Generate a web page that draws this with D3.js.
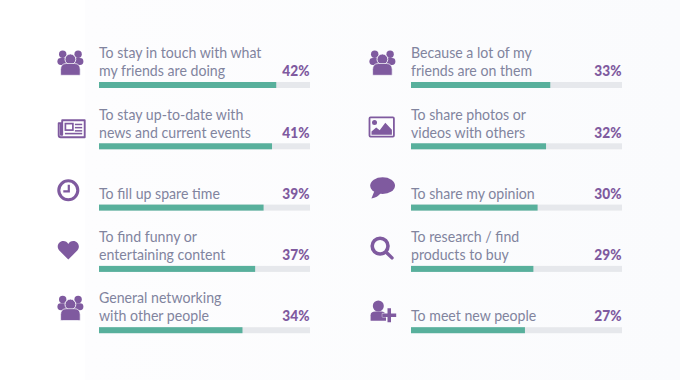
<!DOCTYPE html>
<html>
<head>
<meta charset="utf-8">
<script src="https://cdnjs.cloudflare.com/ajax/libs/d3/7.8.5/d3.min.js"></script>
<style>
  html, body { margin: 0; padding: 0; background: #fff; }
  svg { display: block; }
  text { font-family: Lato, "Noto Sans", sans-serif; }
</style>
</head>
<body>
<div id="chart"></div>
<script>
// Reasons for using social media, in reading order (two columns of five)
const labels = [
  ['To stay in touch with what', 'my friends are doing'],
  ['To stay up-to-date with', 'news and current events'],
  ['To fill up spare time'],
  ['To find funny or', 'entertaining content'],
  ['General networking', 'with other people'],
  ['Because a lot of my', 'friends are on them'],
  ['To share photos or', 'videos with others'],
  ['To share my opinion'],
  ['To research / find', 'products to buy'],
  ['To meet new people']
];
const values = [42, 41, 39, 37, 34, 33, 32, 30, 29, 27];
const icons = ['people', 'news', 'clock', 'heart', 'people', 'people', 'photo', 'speech', 'search', 'addUser'];

const width = 680;
const height = 380;
const barWidth = 211;
const barHeight = 6;
const purple = '#7f5a9f';
const green = '#58b09c';
const track = '#e6e8ec';
const textColor = '#81849e';
const panel = '#fbfcfe';

const svg = d3.select('#chart').append('svg').attr('width', width).attr('height', height);

// Background panel fades in from white on the left
const gradient = svg.append('defs').append('linearGradient').attr('id', 'panelFade');
gradient.append('stop').attr('offset', '0%').attr('stop-color', '#fdfdfe');
gradient.append('stop').attr('offset', '100%').attr('stop-color', '#fafbfd');
svg.append('rect').attr('x', 85).attr('width', width - 85).attr('height', height).attr('fill', 'url(#panelFade)');

// Scales
const column = d3.scaleOrdinal().domain([0, 1]).range([99, 411]);
const rowY = d3.scalePoint().domain([0, 1, 2, 3, 4]).range([82, 327.2]);
const barX = d3.scaleLinear().domain([0, 50]).range([0, barWidth]);

// Icons are drawn around their own centre
const iconDraw = {
  people(g) {
    [-7.7, 7.7].forEach(dx => {
      g.append('circle').attr('cx', dx).attr('cy', -10.2).attr('r', 3.7).attr('fill', purple);
      g.append('rect').attr('x', dx - 5.3).attr('y', -6.5).attr('width', 10.6).attr('height', 7).attr('rx', 3.4).attr('fill', purple);
    });
    g.append('circle').attr('cy', -5.2).attr('r', 5.4).attr('fill', purple).attr('stroke', panel).attr('stroke-width', 0.9);
    g.append('path')
      .attr('d', 'M-9.8,10.5 V5 Q-9.8,-1 -4,-1 H4 Q9.8,-1 9.8,5 V10.5 Q9.8,10.8 8,10.8 H-8 Q-9.8,10.8 -9.8,10.5 Z')
      .attr('fill', purple).attr('stroke', panel).attr('stroke-width', 0.7);
  },
  news(g) {
    g.append('path')
      .attr('d', 'M-9.5,-8.5 H13 V8.5 H-11 Q-13,8.5 -13,6.5 V-5.5 H-10.8 V6 H-9.5 Z')
      .attr('fill', 'none').attr('stroke', purple).attr('stroke-width', 1.9).attr('stroke-linejoin', 'round');
    g.append('rect').attr('x', -6.3).attr('y', -5.2).attr('width', 7.5).attr('height', 6.5)
      .attr('fill', 'none').attr('stroke', purple).attr('stroke-width', 1.7);
    [-4.4, -1.2, 2].forEach(y => {
      g.append('rect').attr('x', 3.2).attr('y', y - 0.7).attr('width', 7.3).attr('height', 1.5).attr('fill', purple);
    });
    g.append('rect').attr('x', -6.8).attr('y', 4).attr('width', 17.3).attr('height', 1.6).attr('fill', purple);
  },
  clock(g) {
    g.append('circle').attr('r', 9.5).attr('fill', 'none').attr('stroke', purple).attr('stroke-width', 3.1);
    g.append('path').attr('d', 'M0.5,-5.5 V1 H-5').attr('fill', 'none').attr('stroke', purple).attr('stroke-width', 2.2);
  },
  heart(g) {
    g.append('path')
      .attr('d', 'M0,9.3 L-9,0.4 C-12.5,-3.6 -9.7,-9.2 -5,-9.2 C-2.7,-9.2 -1,-8 0,-6.2 C1,-8 2.7,-9.2 5,-9.2 C9.7,-9.2 12.5,-3.6 9,0.4 Z')
      .attr('fill', purple);
  },
  photo(g) {
    g.append('rect').attr('x', -12.2).attr('y', -9.6).attr('width', 24.4).attr('height', 19.2).attr('rx', 1)
      .attr('fill', 'none').attr('stroke', purple).attr('stroke-width', 1.8);
    g.append('circle').attr('cx', -7.2).attr('cy', -4.6).attr('r', 2.5).attr('fill', purple);
    g.append('path').attr('d', 'M-10.2,7.8 V4.6 L-5.5,0.6 L-2,3.2 L3.6,-4.2 L10.2,2.8 V7.8 Z').attr('fill', purple);
  },
  speech(g) {
    g.append('ellipse').attr('cx', 0.2).attr('cy', -2.4).attr('rx', 12.4).attr('ry', 8.4).attr('fill', purple);
    g.append('path').attr('d', 'M-8,3 L-11,10.6 Q-5,9.5 -1.5,5 Z').attr('fill', purple);
  },
  search(g) {
    g.append('circle').attr('cx', -1.9).attr('cy', -2.2).attr('r', 7.9).attr('fill', 'none').attr('stroke', purple).attr('stroke-width', 3.6);
    g.append('line').attr('x1', 4.2).attr('y1', 4).attr('x2', 10).attr('y2', 9.6)
      .attr('stroke', purple).attr('stroke-width', 3.4).attr('stroke-linecap', 'round');
  },
  addUser(g) {
    g.append('circle').attr('cx', -3.2).attr('cy', -9.2).attr('r', 5.5).attr('fill', purple);
    g.append('path').attr('d', 'M-10.9,5.5 V0 Q-10.9,-3.6 -6,-3.6 H0 Q3.5,-3.6 4.5,0 V5.5 Z').attr('fill', purple);
    // Plus with a thin gap cut out of the body
    g.append('path').attr('d', 'M6,-7 h3.5 v5.2 h5.2 v3.5 h-5.2 v5.3 h-3.5 v-5.3 h-5.2 v-3.5 h5.2 Z')
      .attr('fill', purple).attr('stroke', panel).attr('stroke-width', 0.9).attr('paint-order', 'stroke');
  }
};
// Centre of each icon, relative to the start and top of its bar
const iconOffset = {
  people: [-28.6, -17.5],
  news: [-27.3, -14.5],
  clock: [-30.7, -14.3],
  heart: [-30.7, -15.7],
  photo: [-29.3, -16.3],
  speech: [-28.6, -16.6],
  search: [-29, -17.6],
  addUser: [-29.5, -12]
};

values.forEach((value, i) => {
  const col = i < 5 ? 0 : 1;
  const x = column(col);
  const y = rowY(i % 5);
  const row = svg.append('g').attr('transform', `translate(${x},${y})`);

  // Bar on its track
  row.append('rect').attr('width', barWidth).attr('height', barHeight).attr('fill', track);
  row.append('rect').attr('width', barX(value)).attr('height', barHeight).attr('fill', green);

  // Label, last line sits just above the bar. Lato runs wider than the original face, so squeeze it
  const lines = labels[i];
  lines.forEach((line, k) => {
    row.append('text')
      .attr('transform', `translate(0,${-5.8 - (lines.length - 1 - k) * 18}) scale(0.925,1)`)
      .attr('font-size', 15.3)
      .attr('fill', textColor)
      .text(line);
  });

  // Value
  row.append('text')
    .attr('transform', `translate(${barWidth - 0.5},-5.8) scale(0.9,1)`)
    .attr('text-anchor', 'end')
    .attr('font-size', 15.2)
    .attr('font-weight', 900)
    .attr('fill', purple)
    .text(`${value}%`);

  const [dx, dy] = iconOffset[icons[i]];
  iconDraw[icons[i]](row.append('g').attr('transform', `translate(${dx},${dy})`));
});
</script>
</body>
</html>
